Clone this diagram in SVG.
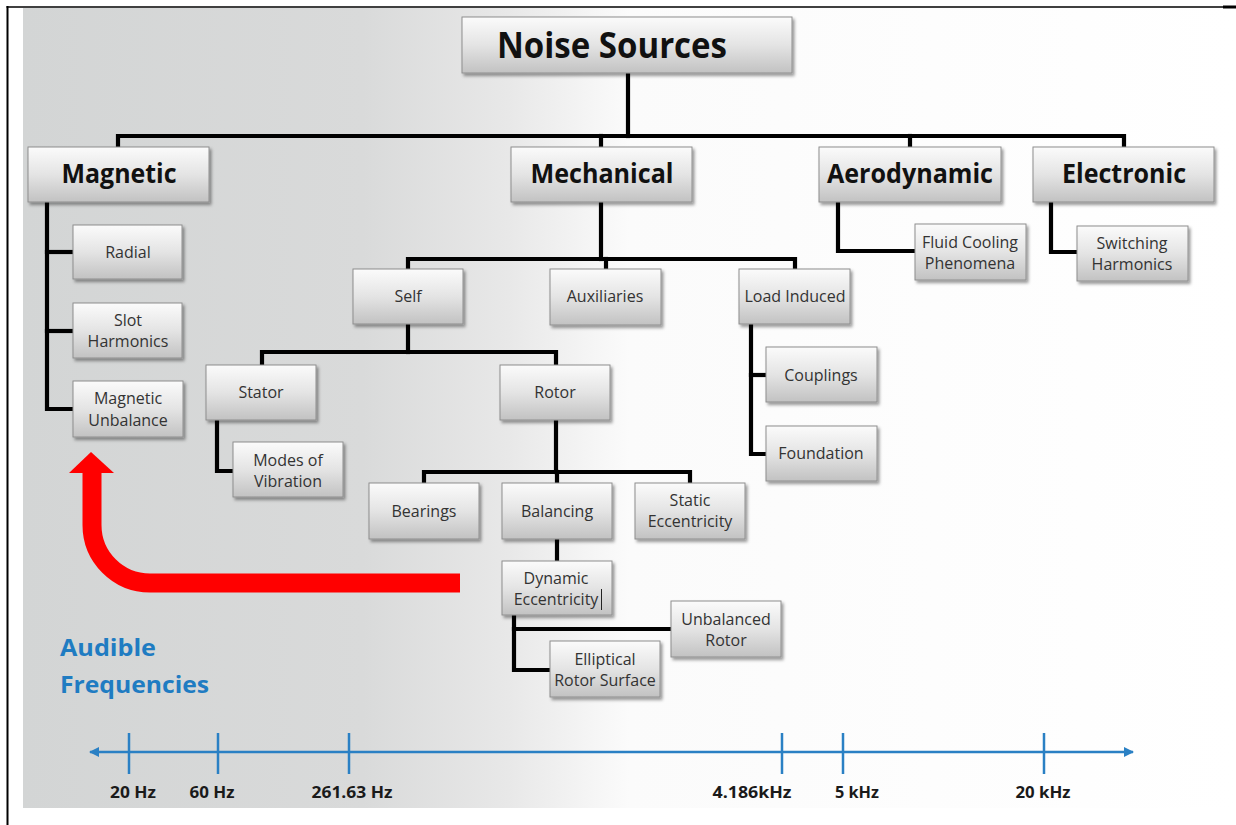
<svg xmlns="http://www.w3.org/2000/svg" width="1236" height="825" viewBox="0 0 1236 825">
<defs>
  <linearGradient id="bg" gradientUnits="userSpaceOnUse" x1="23" y1="0" x2="1236" y2="0">
    <stop offset="0" stop-color="#d3d5d5"/>
    <stop offset="0.28" stop-color="#d9dada"/>
    <stop offset="0.4" stop-color="#e8e8e8"/>
    <stop offset="0.5" stop-color="#fbfbfb"/>
    <stop offset="1" stop-color="#ffffff"/>
  </linearGradient>
  <linearGradient id="box" x1="0" y1="0" x2="0" y2="1">
    <stop offset="0" stop-color="#fbfbfb"/>
    <stop offset="0.5" stop-color="#e4e4e4"/>
    <stop offset="1" stop-color="#c2c2c2"/>
  </linearGradient>
  <filter id="sh" x="-10%" y="-10%" width="125%" height="135%">
    <feDropShadow dx="2" dy="2.5" stdDeviation="1.5" flood-color="#000" flood-opacity="0.4"/>
  </filter>
  <marker id="ax" viewBox="0 0 10 10" refX="9" refY="5" markerWidth="4" markerHeight="4" orient="auto-start-reverse">
    <path d="M0 0 L10 5 L0 10 Z" fill="#2a80c4"/>
  </marker>
</defs>
<style>
  .node rect { fill: url(#box); stroke: #8e8e8e; stroke-width: 1; filter: url(#sh); }
  .t { font-family: "Open Sans", "Liberation Sans", sans-serif; font-size: 16px; fill: #333; text-anchor: middle; }
  .h { font-family: "Open Sans", "Liberation Sans", sans-serif; font-size: 26px; font-weight: bold; fill: #111; text-anchor: middle; }
  .conn path { fill: none; stroke: #000; stroke-width: 4.2; stroke-linejoin: miter; stroke-linecap: square; }
  .freq { font-family: "Open Sans", "Liberation Sans", sans-serif; font-size: 16px; font-weight: bold; fill: #1a1a1a; text-anchor: middle; }
  .tick { stroke: #2a80c4; stroke-width: 2.5; }
</style>

<!-- frame and background -->
<rect x="23" y="8" width="1213" height="800" fill="url(#bg)"/>
<line x1="7.5" y1="6" x2="7.5" y2="825" stroke="#000" stroke-width="2"/>
<line x1="6.5" y1="7" x2="1223" y2="7" stroke="#000" stroke-width="1.5"/>
<line x1="1223" y1="7" x2="1236" y2="7" stroke="#000" stroke-width="3"/>

<!-- connectors -->
<g id="connectors" class="conn">
  <path d="M628 73 V136"/>
  <path d="M118 147 V136 H1124 V147"/>
  <path d="M601 136 V147"/>
  <path d="M910 136 V147"/>
  <path d="M47 202 V409 H73"/>
  <path d="M47 252 H73"/>
  <path d="M47 331 H73"/>
  <path d="M601 202 V259"/>
  <path d="M408 269 V259 H795 V269"/>
  <path d="M606 259 V269"/>
  <path d="M838 202 V251 H915"/>
  <path d="M1051 202 V252 H1077"/>
  <path d="M408 324 V352"/>
  <path d="M262 365 V352 H556 V365"/>
  <path d="M217 420 V471 H233"/>
  <path d="M556 420 V472"/>
  <path d="M424 483 V472 H690 V483"/>
  <path d="M557 472 V483"/>
  <path d="M751 324 V454 H766"/>
  <path d="M751 375 H766"/>
  <path d="M557 539 V561"/>
  <path d="M514 615 V670 H550"/>
  <path d="M514 629 H671"/>
</g>

<!-- nodes -->
<g id="noise-sources" class="node"><rect x="462" y="17" width="330" height="56"/><text class="h" x="612" y="58" style="font-size:36px" textLength="230" lengthAdjust="spacingAndGlyphs">Noise Sources</text></g>
<g id="magnetic" class="node"><rect x="28" y="147" width="181" height="55"/><text class="h" x="119" y="183" textLength="115" lengthAdjust="spacingAndGlyphs">Magnetic</text></g>
<g id="mechanical" class="node"><rect x="511" y="147" width="181" height="55"/><text class="h" x="602" y="183" textLength="143" lengthAdjust="spacingAndGlyphs">Mechanical</text></g>
<g id="aerodynamic" class="node"><rect x="819" y="147" width="182" height="55"/><text class="h" x="910" y="183" textLength="166" lengthAdjust="spacingAndGlyphs">Aerodynamic</text></g>
<g id="electronic" class="node"><rect x="1033" y="147" width="181" height="55"/><text class="h" x="1124" y="183" textLength="124" lengthAdjust="spacingAndGlyphs">Electronic</text></g>

<g id="radial" class="node"><rect x="73" y="225" width="109" height="54"/><text class="t" x="128" y="258">Radial</text></g>
<g id="slot-harmonics" class="node"><rect x="73" y="303" width="109" height="55"/><text class="t" x="128" y="326">Slot</text><text class="t" x="128" y="347">Harmonics</text></g>
<g id="magnetic-unbalance" class="node"><rect x="73" y="381" width="110" height="56"/><text class="t" x="128" y="404">Magnetic</text><text class="t" x="128" y="426">Unbalance</text></g>

<g id="fluid-cooling" class="node"><rect x="915" y="224" width="111" height="56"/><text class="t" x="970" y="248">Fluid Cooling</text><text class="t" x="970" y="269">Phenomena</text></g>
<g id="switching-harmonics" class="node"><rect x="1077" y="226" width="111" height="55"/><text class="t" x="1132" y="249">Switching</text><text class="t" x="1132" y="270">Harmonics</text></g>

<g id="self" class="node"><rect x="353" y="269" width="110" height="55"/><text class="t" x="408" y="302">Self</text></g>
<g id="auxiliaries" class="node"><rect x="550" y="269" width="111" height="56"/><text class="t" x="605" y="302">Auxiliaries</text></g>
<g id="load-induced" class="node"><rect x="739" y="269" width="111" height="55"/><text class="t" x="795" y="302">Load Induced</text></g>

<g id="stator" class="node"><rect x="206" y="365" width="110" height="55"/><text class="t" x="261" y="398">Stator</text></g>
<g id="rotor" class="node"><rect x="500" y="365" width="110" height="55"/><text class="t" x="555" y="398">Rotor</text></g>
<g id="couplings" class="node"><rect x="766" y="347" width="111" height="55"/><text class="t" x="821" y="381">Couplings</text></g>
<g id="foundation" class="node"><rect x="766" y="426" width="111" height="55"/><text class="t" x="821" y="459">Foundation</text></g>

<g id="modes-of-vibration" class="node"><rect x="233" y="442" width="110" height="55"/><text class="t" x="288" y="466">Modes of</text><text class="t" x="288" y="487">Vibration</text></g>
<g id="bearings" class="node"><rect x="369" y="483" width="110" height="56"/><text class="t" x="424" y="517">Bearings</text></g>
<g id="balancing" class="node"><rect x="502" y="483" width="110" height="56"/><text class="t" x="557" y="517">Balancing</text></g>
<g id="static-eccentricity" class="node"><rect x="635" y="483" width="110" height="56"/><text class="t" x="690" y="506">Static</text><text class="t" x="690" y="527">Eccentricity</text></g>

<g id="dynamic-eccentricity" class="node"><rect x="502" y="561" width="110" height="54"/><text class="t" x="556" y="584">Dynamic</text><text class="t" x="556" y="605">Eccentricity</text><line x1="601.5" y1="589" x2="601.5" y2="610" stroke="#222" stroke-width="1"/></g>
<g id="unbalanced-rotor" class="node"><rect x="671" y="601" width="110" height="56"/><text class="t" x="726" y="625">Unbalanced</text><text class="t" x="726" y="646">Rotor</text></g>
<g id="elliptical-rotor-surface" class="node"><rect x="550" y="641" width="110" height="56"/><text class="t" x="605" y="665">Elliptical</text><text class="t" x="605" y="686">Rotor Surface</text></g>

<!-- red arrow -->
<g id="red-arrow">
  <path d="M460 583 H150 A58 58 0 0 1 92 525 V470" fill="none" stroke="#ff0000" stroke-width="19"/>
  <polygon points="69,473 114,473 91,452" fill="#ff0000"/>
</g>

<!-- audible frequencies -->
<g id="audible">
  <text x="60" y="656" font-family="'Open Sans', 'Liberation Sans', sans-serif" font-size="24" font-weight="bold" fill="#1f7cc2" textLength="96" lengthAdjust="spacingAndGlyphs">Audible</text>
  <text x="60" y="693" font-family="'Open Sans', 'Liberation Sans', sans-serif" font-size="24" font-weight="bold" fill="#1f7cc2" textLength="149" lengthAdjust="spacingAndGlyphs">Frequencies</text>
</g>

<g id="axis">
  <line x1="90" y1="752" x2="1133" y2="752" stroke="#2a80c4" stroke-width="2.5" marker-start="url(#ax)" marker-end="url(#ax)"/>
  <line class="tick" x1="129" y1="733" x2="129" y2="774"/>
  <line class="tick" x1="218" y1="733" x2="218" y2="774"/>
  <line class="tick" x1="349" y1="733" x2="349" y2="774"/>
  <line class="tick" x1="782" y1="733" x2="782" y2="774"/>
  <line class="tick" x1="843" y1="733" x2="843" y2="774"/>
  <line class="tick" x1="1044" y1="733" x2="1044" y2="774"/>
  <text class="freq" x="133" y="798" textLength="46" lengthAdjust="spacingAndGlyphs">20 Hz</text>
  <text class="freq" x="212" y="798" textLength="45" lengthAdjust="spacingAndGlyphs">60 Hz</text>
  <text class="freq" x="352" y="798" textLength="81" lengthAdjust="spacingAndGlyphs">261.63 Hz</text>
  <text class="freq" x="752" y="798" textLength="79" lengthAdjust="spacingAndGlyphs">4.186kHz</text>
  <text class="freq" x="857" y="798" textLength="44" lengthAdjust="spacingAndGlyphs">5 kHz</text>
  <text class="freq" x="1043" y="798" textLength="55" lengthAdjust="spacingAndGlyphs">20 kHz</text>
</g>
</svg>
